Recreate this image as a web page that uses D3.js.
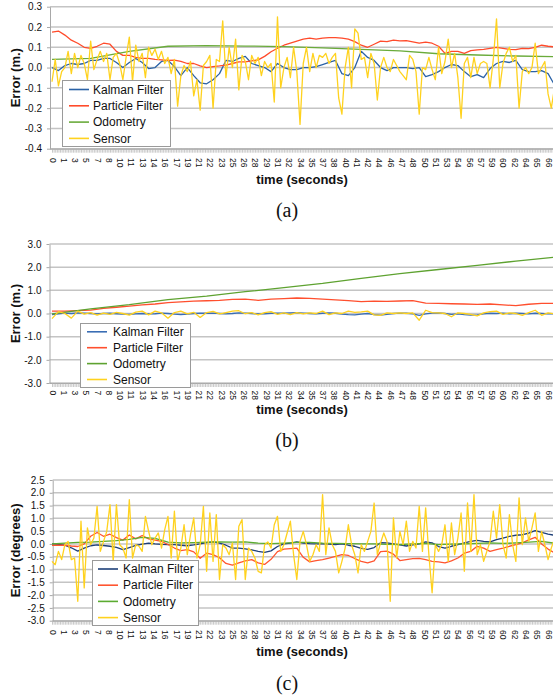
<!DOCTYPE html>
<html>
<head>
<meta charset="utf-8">
<script src="https://cdn.jsdelivr.net/npm/d3@7"></script>
<style>
  body { margin: 0; background: #fff; }
  svg text { font-family: "Liberation Sans", Arial, Helvetica, sans-serif; fill: #111; }
</style>
</head>
<body>
<svg id="fig" width="553" height="698"></svg>
<script>
// ---- shared axis data ----
const timeLabels = [0,1,3,5,7,8,10,11,13,14,16,17,19,21,22,23,25,26,28,29,31,32,34,35,37,38,40,41,42,44,46,47,48,50,51,53,54,56,57,59,60,62,64,65,66];
const samplesPerLabel = 7;
const sampleCount = 313;
const seriesNames = ["Kalman Filter", "Particle Filter", "Odometry", "Sensor"];

// ---- (a) position error, metres ----
const yTicksA = [-0.4, -0.3, -0.2, -0.1, 0.0, 0.1, 0.2, 0.3];
const aKalman = [0.0,-0.015,0.01,0.02,0.015,0.02,0.035,0.035,0.045,0.045,
  0.025,0.0,0.025,0.045,0.025,-0.005,0.0,0.03,0.035,0.005,
  -0.04,0.0,-0.04,-0.075,-0.08,-0.06,-0.03,0.035,0.03,0.045,
  0.055,0.02,0.01,0.0,-0.02,0.02,0.0,-0.01,-0.01,0.0,
  0.0,0.005,0.015,0.025,0.035,-0.03,-0.04,0.0,0.08,0.05,
  0.035,0.0,-0.015,0.0,0.0,0.0,-0.005,0.0,-0.045,-0.035,
  -0.02,0.0,0.015,0.01,-0.02,-0.045,-0.035,-0.05,-0.005,0.02,
  0.03,0.025,0.035,-0.01,-0.02,-0.02,-0.015,-0.03,-0.085];
const aParticle = [0.175,0.18,0.16,0.135,0.12,0.10,0.095,0.105,0.12,0.115,
  0.08,0.06,0.06,0.05,0.045,0.045,0.04,0.038,0.035,0.037,
  0.03,0.02,0.02,0.008,0.0,0.005,0.008,0.012,0.02,0.028,
  0.028,0.033,0.038,0.055,0.078,0.095,0.11,0.12,0.13,0.14,
  0.145,0.14,0.145,0.148,0.148,0.145,0.14,0.128,0.11,0.1,
  0.115,0.13,0.128,0.135,0.132,0.133,0.127,0.12,0.125,0.12,
  0.105,0.07,0.08,0.08,0.07,0.083,0.087,0.09,0.095,0.1,
  0.095,0.09,0.088,0.095,0.093,0.1,0.11,0.105,0.102];
const aOdometry = [0.04,0.045,0.08,0.105,0.108,0.106,0.103,0.097,0.09,0.082,0.068,0.062,0.057,0.054];
const aSensor = [-0.07,0.04,-0.09,-0.02,0.0,0.08,-0.03,0.07,0.0,0.06,
  0.02,-0.06,0.13,-0.01,0.04,0.08,0.03,0.07,-0.06,0.05,
  0.07,0.02,-0.06,0.05,0.15,-0.07,0.11,0.03,0.07,-0.05,
  0.1,0.06,0.09,0.04,0.08,0.02,0.05,-0.03,0.04,-0.19,
  -0.04,0.01,-0.02,0.03,-0.14,-0.06,-0.21,0.01,0.03,0.06,
  -0.2,0.04,0.03,0.23,-0.05,0.1,0.0,0.14,-0.11,0.06,
  0.03,-0.06,0.06,0.02,0.05,-0.04,0.03,0.0,0.02,-0.17,
  0.25,-0.1,0.0,0.05,-0.05,0.1,-0.02,-0.28,0.02,0.1,
  -0.02,0.07,0.0,0.06,0.05,0.07,0.02,0.05,0.07,-0.15,
  -0.23,0.0,0.1,-0.1,0.19,0.17,0.04,0.05,-0.05,0.07,
  0.02,-0.16,0.0,0.05,0.0,-0.02,0.04,0.01,-0.02,-0.04,
  -0.06,0.06,0.04,-0.02,-0.23,0.0,-0.01,0.05,-0.01,-0.06,
  0.1,-0.03,0.03,0.14,0.0,0.07,-0.05,-0.25,0.02,0.05,
  -0.05,0.05,-0.03,0.02,0.03,0.02,-0.1,0.04,0.24,-0.1,
  0.02,0.07,0.1,0.03,0.06,-0.2,-0.02,0.0,-0.03,0.0,
  0.12,-0.03,0.0,0.03,-0.13,-0.2,-0.1];

// ---- (b) position error, metres ----
const yTicksB = [-3, -2, -1, 0, 1, 2, 3];
const bKalman = [-0.05,-0.02,0.02,0.0,0.03,0.02,0.0,-0.02,0.0,0.01,
  -0.01,-0.03,-0.04,-0.02,0.0,-0.02,-0.01,0.02,0.0,-0.03,
  -0.05,-0.03,0.0,0.02,0.01,0.02,0.0,-0.02,0.0,0.03,
  0.02,0.0,-0.02,-0.01,0.01,0.02,0.01,0.03,0.04,0.02,
  0.0,-0.02,0.01,0.03,0.01,-0.03,-0.05,-0.06,-0.03,0.0,
  -0.05,-0.07,-0.04,0.0,0.02,0.01,-0.02,-0.08,-0.02,0.02,
  0.03,0.0,-0.04,-0.02,-0.05,-0.07,-0.06,-0.02,0.01,0.0,
  0.02,-0.01,0.01,0.0,-0.02,0.01,0.0,-0.02,-0.01];
const bParticle = [0.1,0.1,0.12,0.15,0.22,0.27,0.32,0.37,0.41,0.47,
  0.5,0.53,0.55,0.57,0.61,0.62,0.57,0.62,0.64,0.67,
  0.65,0.62,0.59,0.56,0.51,0.53,0.52,0.54,0.56,0.45,
  0.44,0.42,0.41,0.39,0.41,0.37,0.34,0.4,0.44,0.44];
const bOdometry = [-0.02,0.2,0.38,0.6,0.75,0.94,1.12,1.3,1.52,1.72,1.9,2.08,2.26,2.43];
const bSensor = [-0.22,0.08,0.0,-0.2,0.1,-0.03,0.04,-0.07,0.02,-0.04,
  0.05,0.0,-0.07,0.06,0.1,-0.06,0.1,0.03,-0.2,0.04,
  0.1,-0.02,0.05,-0.17,0.04,0.09,-0.02,0.04,0.1,0.12,
  -0.01,0.04,-0.06,0.04,0.08,-0.04,0.03,-0.05,0.04,-0.02,
  0.03,0.0,0.1,-0.05,0.03,0.0,0.1,0.05,0.07,0.1,
  -0.06,-0.08,0.03,0.0,0.03,0.0,0.03,-0.29,0.14,0.04,
  0.03,0.0,-0.14,0.03,0.0,-0.04,-0.1,0.03,0.08,0.1,
  -0.04,0.03,0.0,-0.08,0.04,0.14,-0.08,0.03,-0.02];

// ---- (c) heading error, degrees ----
const yTicksC = [-3.0, -2.5, -2.0, -1.5, -1.0, -0.5, 0.0, 0.5, 1.0, 1.5, 2.0, 2.5];
const cKalman = [0.0,-0.02,-0.05,-0.15,-0.28,-0.16,-0.07,-0.04,-0.06,-0.09,
  -0.13,-0.22,-0.14,-0.06,-0.01,0.03,0.0,-0.02,-0.03,-0.03,
  -0.05,-0.07,-0.04,0.0,0.05,0.08,0.03,-0.05,-0.16,-0.16,
  -0.19,-0.23,-0.29,-0.33,-0.27,-0.1,0.0,0.03,0.08,0.03,
  0.01,0.0,0.0,-0.01,-0.03,0.0,-0.05,-0.09,-0.17,-0.21,
  -0.14,0.05,0.04,0.0,-0.04,-0.08,-0.04,0.0,0.08,0.04,
  -0.1,-0.16,-0.09,-0.03,0.04,0.1,0.14,0.1,0.08,0.17,
  0.23,0.3,0.34,0.36,0.42,0.52,0.45,0.38,0.34];
const cParticle = [-0.05,-0.05,-0.05,-0.08,-0.1,0.0,0.3,0.45,0.3,0.38,
  0.25,0.15,0.35,0.2,0.33,0.2,0.15,0.1,-0.02,-0.16,
  -0.26,-0.22,-0.31,-0.56,-0.36,-0.42,-0.54,-0.76,-0.83,-0.74,
  -0.66,-0.61,-0.74,-0.8,-0.6,-0.3,-0.2,-0.18,-0.16,-0.52,
  -0.7,-0.65,-0.61,-0.55,-0.49,-0.42,-0.45,-0.57,-0.68,-0.74,
  -0.66,-0.3,-0.28,-0.4,-0.65,-0.61,-0.57,-0.56,-0.61,-0.68,
  -0.7,-0.74,-0.66,-0.55,-0.36,-0.29,-0.09,-0.16,-0.29,-0.22,
  -0.16,-0.09,-0.03,0.04,0.16,0.26,0.0,-0.2,-0.35];
const cOdometry = [0.0,0.03,0.06,0.07,0.1,0.13,0.18,0.26,0.22,0.07,
  0.04,0.05,0.07,0.08,0.07,0.08,0.03,0.01,0.03,0.06,
  0.06,0.03,0.02,0.01,0.0,0.0,-0.02,-0.03,0.0,0.02,
  -0.03,-0.01,0.0,0.02,0.04,0.02,0.04,0.07,0.1,0.03];
const cSensor = [-0.68,-0.81,-0.29,-0.61,-0.03,0.1,-0.61,-0.55,-2.24,0.89,
  -1.72,0.63,-0.03,0.23,1.47,-0.29,0.1,0.49,1.54,-0.68,
  1.54,-0.03,-0.16,-0.55,1.73,-0.55,-0.03,-0.09,-0.29,1.08,
  0.49,-0.03,0.23,0.43,-0.16,0.56,1.08,-0.55,1.28,-0.68,
  -0.16,0.75,-0.42,0.36,1.02,-0.55,-0.03,1.47,-1.07,1.21,
  -0.68,1.15,-1.39,-0.03,-0.16,-0.42,0.04,-1.39,0.69,0.95,
  -1.39,-0.16,-0.29,-0.55,-1.07,-1.13,-0.03,0.08,-0.16,0.75,
  1.08,-0.29,-0.03,0.43,0.89,-0.42,-1.39,0.1,0.49,-0.03,
  -0.68,-0.42,-0.03,-0.29,1.93,-0.42,0.63,-0.03,-0.29,-1.13,
  -0.68,-0.16,0.75,-0.03,-0.42,-1.13,-0.03,-0.29,0.1,0.49,
  1.6,-0.42,0.04,0.43,0.1,-2.24,1.02,-0.55,0.49,-0.03,
  0.89,-0.29,0.1,-0.16,1.47,-0.29,1.41,-0.42,-1.91,-0.03,
  -0.29,-0.03,0.75,-0.68,0.82,-0.42,0.23,1.21,-1.07,1.6,
  -0.29,1.93,-0.42,-0.03,-0.68,-0.29,0.1,1.28,0.23,1.54,
  -0.03,-0.55,1.15,-0.03,-0.68,1.8,-0.03,1.02,0.1,0.63,
  1.21,-0.29,0.49,-0.03,-0.61,-0.16,0.2];

// ---- drawing ----
const svg = d3.select("#fig");
const xStart = 52, xStep = 1.6106;
const x = d3.scaleLinear().domain([0, sampleCount - 1]).range([xStart, xStart + xStep * (sampleCount - 1)]);
const fmt = d => (Math.abs(d) < 1e-9 ? 0 : d).toFixed(1);

const panels = [
  { top: 6.7, bottom: 148.7, left: 50, domain: [-0.4, 0.3], ticks: yTicksA, title: "Error (m.)",
    series: [aKalman, aParticle, aOdometry, aSensor],
    colors: ["#2b62a6", "#ff4b2b", "#6aab3b", "#ffd21e"],
    legend: { x: 62, y: 80, w: 108, h: 66, row0: 89.5, gap: 16.3, lx: 69, tx: 93 },
    xLabelTop: 158, xTitleY: 184, tag: "(a)", tagY: 217 },
  { top: 244, bottom: 383, left: 49.5, domain: [-3, 3], ticks: yTicksB, title: "Error (m.)",
    series: [bKalman, bParticle, bOdometry, bSensor],
    colors: ["#3a6db4", "#ff4f2e", "#5ea230", "#ffd21e"],
    legend: { x: 80, y: 323, w: 110, h: 64, row0: 331.8, gap: 15.9, lx: 87, tx: 113 },
    xLabelTop: 390.5, xTitleY: 413.5, tag: "(b)", tagY: 447 },
  { top: 480, bottom: 620.7, left: 52.7, domain: [-3, 2.5], ticks: yTicksC, title: "Error (degrees)",
    series: [cKalman, cParticle, cOdometry, cSensor],
    colors: ["#1e3f78", "#ff5530", "#5bab31", "#ffd21e"],
    legend: { x: 92, y: 560, w: 106, h: 65, row0: 569, gap: 16.2, lx: 98, tx: 123 },
    xLabelTop: 630, xTitleY: 656, tag: "(c)", tagY: 690 }
];

const labelIdx = timeLabels.map((t, i) => i * samplesPerLabel);

panels.forEach(p => {
  const g = svg.append("g");
  const y = d3.scaleLinear().domain(p.domain).range([p.bottom, p.top]);

  // horizontal gridlines
  g.append("g").selectAll("line").data(p.ticks).join("line")
    .attr("x1", p.left).attr("x2", 553)
    .attr("y1", d => y(d)).attr("y2", d => y(d))
    .attr("stroke", "#c4c4c4").attr("stroke-width", 1.5);

  // value axis
  const ya = g.append("g").attr("transform", `translate(${p.left},0)`)
    .call(d3.axisLeft(y).tickValues(p.ticks).tickFormat(fmt).tickSize(3).tickPadding(5).tickSizeOuter(0));
  ya.select(".domain").attr("stroke", "#a8a8a8");
  ya.selectAll(".tick line").attr("stroke", "#a8a8a8");
  ya.selectAll("text").attr("font-size", 10).attr("fill", "#111");

  // dense sample ticks along the time axis
  const xm = g.append("g").attr("transform", `translate(0,${p.bottom})`)
    .call(d3.axisBottom(x).tickValues(d3.range(sampleCount)).tickFormat("").tickSize(4).tickSizeOuter(0));
  xm.select(".domain").attr("stroke", "#a8a8a8").attr("d", `M${p.left},0.5H553`);
  xm.selectAll(".tick line").attr("stroke", "#b0b0b0").attr("stroke-width", 0.7);

  // labelled time ticks, rotated
  const xl = g.append("g").attr("transform", `translate(0,${p.bottom})`)
    .call(d3.axisBottom(x).tickValues(labelIdx).tickFormat((d, i) => timeLabels[i]).tickSize(0));
  xl.select(".domain").remove();
  xl.selectAll("text")
    .attr("font-size", 8.5).attr("fill", "#111")
    .attr("text-anchor", "start")
    .attr("transform", "rotate(90)")
    .attr("x", p.xLabelTop - p.bottom).attr("y", 0).attr("dy", "0.35em");

  // series lines
  const line = arr => d3.line()
    .x((d, i) => x(i * (sampleCount - 1) / (arr.length - 1)))
    .y(d => y(d))(arr);
  g.append("g").selectAll("path").data(p.series).join("path")
    .attr("d", d => line(d))
    .attr("fill", "none")
    .attr("stroke", (d, i) => p.colors[i])
    .attr("stroke-width", 1.3)
    .attr("stroke-linejoin", "round");

  // axis titles
  g.append("text")
    .attr("transform", `translate(19.5,${(p.top + p.bottom) / 2}) rotate(-90)`)
    .attr("text-anchor", "middle")
    .attr("font-size", 13).attr("font-weight", "bold")
    .text(p.title);
  g.append("text")
    .attr("x", 302).attr("y", p.xTitleY)
    .attr("text-anchor", "middle")
    .attr("font-size", 13).attr("font-weight", "bold")
    .text("time (seconds)");

  // legend
  const L = p.legend;
  const lg = g.append("g");
  lg.append("rect").attr("x", L.x + 0.5).attr("y", L.y + 0.5).attr("width", L.w).attr("height", L.h)
    .attr("fill", "#fff").attr("stroke", "#9a9a9a");
  const rows = lg.selectAll("g.row").data(seriesNames).join("g").attr("class", "row")
    .attr("transform", (d, i) => `translate(0,${L.row0 + i * L.gap})`);
  rows.append("line").attr("x1", L.lx).attr("x2", L.lx + 20).attr("y1", 0).attr("y2", 0)
    .attr("stroke", (d, i) => p.colors[i]).attr("stroke-width", 1.6);
  rows.append("text").attr("x", L.tx).attr("y", 0).attr("dy", "0.35em")
    .attr("font-size", 12).text(d => d);

  // panel tag
  svg.append("text")
    .attr("x", 287).attr("y", p.tagY)
    .attr("text-anchor", "middle")
    .style("font-family", "'Liberation Serif', 'Times New Roman', serif")
    .attr("font-size", 20)
    .text(p.tag);
});
</script>
</body>
</html>
